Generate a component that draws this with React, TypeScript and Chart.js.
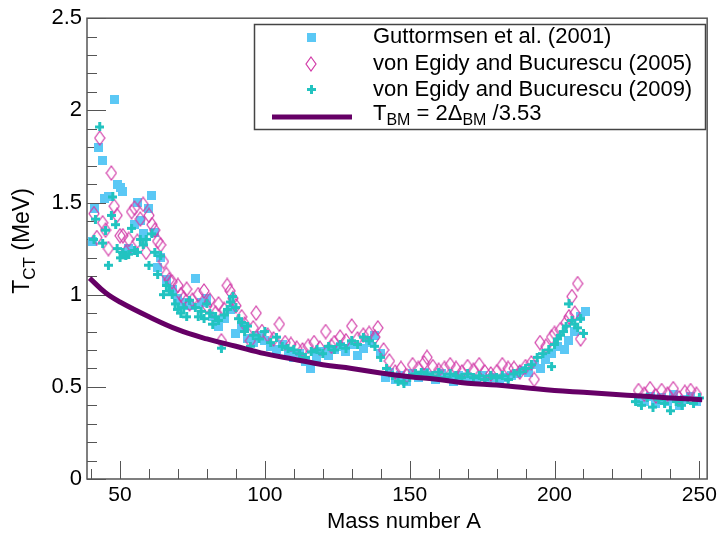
import React, { useEffect, useRef } from "react";
import { Chart, registerables } from "chart.js";
Chart.register(...registerables);

const FONT = "'Liberation Sans', Arial, Helvetica, sans-serif";

// ---- Axis ticks ----
const xTickValues = [50, 100, 150, 200, 250];
const xTickLabels = ["50", "100", "150", "200", "250"];
const yTickValues = [0, 0.5, 1, 1.5, 2, 2.5];
const yTickLabels = ["0", "0.5", "1", "1.5", "2", "2.5"];
const xRange = [38.6, 252.7];
const yRange = [0, 2.5];

// ---- Legend ----
const legendLabels = [
  "Guttormsen et al. (2001)",
  "von Egidy and Bucurescu (2005)",
  "von Egidy and Bucurescu (2009)",
];

// ---- Data: [mass number A, T_CT (MeV)] ----
const guttormsen2001: [number, number][] = [
  [40.6, 1.29], [41.2, 1.47], [42.4, 1.8], [44.1, 1.73], [44.7, 1.52], [46, 1.53], [48.1, 2.06],
  [49, 1.6], [50, 1.58], [51, 1.56], [52, 1.22], [53, 1.25], [55, 1.38], [56, 1.5], [57, 1.4],
  [58, 1.33], [60, 1.47], [61, 1.54], [62, 1.34], [63, 1.15], [64, 1.2], [66, 1.08], [68, 1.03],
  [70, 0.98], [72, 0.96], [74, 0.94], [76, 1.09], [78, 0.96], [80, 0.98], [82, 0.88], [84, 0.83],
  [86, 0.87], [88, 0.92], [90, 0.79], [92, 0.83], [94, 0.76], [96, 0.74], [98, 0.78], [100, 0.75],
  [102, 0.72], [104, 0.7], [106, 0.73], [108, 0.69], [110, 0.66], [112, 0.68], [114, 0.64],
  [115.7, 0.6], [118, 0.66], [120, 0.69], [122, 0.67], [124, 0.7], [126, 0.72], [128, 0.69],
  [130, 0.73], [132, 0.67], [134, 0.71], [136, 0.74], [138, 0.78], [140, 0.68], [141.5, 0.55],
  [143, 0.58], [145, 0.54], [147, 0.56], [149, 0.53], [151, 0.57], [153, 0.55], [155, 0.58],
  [157, 0.56], [159, 0.54], [161, 0.57], [163, 0.55], [165, 0.53], [167, 0.56], [169, 0.54],
  [171, 0.55], [173, 0.53], [175, 0.56], [177, 0.54], [179, 0.55], [181, 0.53], [183, 0.55],
  [185, 0.56], [187, 0.57], [189, 0.59], [191, 0.58], [193, 0.62], [195, 0.6], [197, 0.65],
  [199, 0.68], [201, 0.72], [203.3, 0.7], [205, 0.75], [207, 0.8], [209, 0.88], [210.8, 0.91],
  [229, 0.43], [231, 0.42], [233, 0.45], [235, 0.41], [237, 0.44], [239, 0.42], [241, 0.46],
  [243, 0.4], [245, 0.43], [247, 0.45], [249, 0.42],
];

const egidy2005: [number, number][] = [
  [41, 1.44], [42, 1.31], [43, 1.85], [44, 1.39], [45, 1.35], [46, 1.25], [47, 1.66], [48, 1.48],
  [49, 1.43], [50, 1.32], [51, 1.32], [52, 1.23], [53, 1.3], [54, 1.45], [55, 1.47], [56, 1.29],
  [57, 1.41], [58, 1.49], [59, 1.23], [60, 1.43], [61, 1.38], [62, 1.35], [63, 1.29], [64, 1.27],
  [65, 1.18], [66, 1.11], [67, 1.08], [68, 1.07], [70, 1.05], [71, 1.0], [72, 0.98], [73, 1.03],
  [74, 0.95], [75, 0.97], [77, 1.0], [79, 1.02], [80, 0.94], [81, 0.97], [83, 0.9], [84, 0.95],
  [85, 0.75], [86, 0.92], [87, 1.05], [88, 1.02], [89, 0.98], [90, 0.94], [92, 0.88], [93, 0.84],
  [95, 0.75], [96, 0.82], [97, 0.9], [99, 0.8], [101, 0.78], [103, 0.76], [105, 0.84], [107, 0.74],
  [109, 0.73], [111, 0.71], [113, 0.7], [115, 0.72], [117, 0.74], [119, 0.71], [121, 0.8],
  [123, 0.72], [124, 0.74], [126, 0.77], [128, 0.75], [130, 0.83], [132, 0.76], [134, 0.78],
  [136, 0.79], [138, 0.77], [139, 0.82], [141, 0.7], [143, 0.64], [145, 0.58], [147, 0.6],
  [149, 0.56], [151, 0.62], [153, 0.6], [155, 0.63], [156, 0.66], [158, 0.61], [160, 0.59],
  [162, 0.6], [164, 0.62], [166, 0.6], [168, 0.58], [170, 0.61], [172, 0.59], [174, 0.62],
  [176, 0.58], [178, 0.57], [180, 0.58], [182, 0.62], [184, 0.6], [186, 0.6], [188, 0.58],
  [190, 0.61], [192, 0.63], [193, 0.54], [195, 0.74], [197, 0.72], [199, 0.77], [200, 0.79],
  [202, 0.81], [204, 0.85], [205, 0.88], [206, 0.99], [207, 0.9], [208, 1.06], [209, 0.76],
  [229, 0.48], [231, 0.46], [233, 0.49], [235, 0.45], [237, 0.48], [239, 0.46], [241, 0.49],
  [243, 0.44], [245, 0.47], [247, 0.48], [249, 0.46],
];

const egidy2009: [number, number][] = [
  [41, 1.3], [41.5, 1.41], [43, 1.91], [44, 1.28], [45, 1.35], [46, 1.16], [47, 1.43], [47.5, 1.53],
  [48.5, 1.38], [49, 1.25], [50, 1.2], [51, 1.23], [52, 1.21], [53, 1.22], [54, 1.36], [55, 1.24],
  [56, 1.23], [57, 1.3], [58, 1.27], [59, 1.3], [60, 1.16], [61, 1.33], [62, 1.23], [63, 1.11],
  [64, 1.21], [65, 1.0], [66, 1.05], [67, 1.02], [68, 1.0], [69, 0.95], [70, 0.92], [71, 0.9],
  [72, 0.93], [73, 0.88], [74, 0.97], [76, 0.93], [77, 0.88], [78, 0.91], [79, 0.87], [80, 0.95],
  [81, 0.9], [82, 0.84], [83, 0.88], [84, 0.86], [85, 0.71], [86, 0.89], [87, 0.92], [88, 0.96],
  [89, 0.99], [90, 0.93], [91, 0.87], [92, 0.85], [93, 0.8], [94, 0.83], [95, 0.72], [96, 0.78],
  [98, 0.76], [100, 0.8], [102, 0.74], [104, 0.77], [106, 0.72], [108, 0.71], [110, 0.7],
  [112, 0.68], [114, 0.66], [116, 0.69], [118, 0.7], [120, 0.68], [122, 0.72], [124, 0.7],
  [126, 0.73], [128, 0.71], [130, 0.75], [132, 0.73], [134, 0.77], [136, 0.75], [138, 0.72],
  [140, 0.66], [142, 0.6], [144, 0.56], [146, 0.53], [148, 0.52], [150, 0.55], [152, 0.57],
  [154, 0.58], [156, 0.57], [158, 0.56], [160, 0.58], [162, 0.55], [164, 0.57], [166, 0.56],
  [168, 0.55], [170, 0.57], [172, 0.55], [174, 0.56], [176, 0.54], [178, 0.56], [180, 0.55],
  [182, 0.56], [184, 0.54], [186, 0.57], [188, 0.58], [190, 0.6], [192, 0.62], [194, 0.66],
  [196, 0.68], [198, 0.7], [199, 0.61], [200, 0.73], [201, 0.76], [202, 0.78], [203, 0.8],
  [204, 0.83], [205, 0.95], [206, 0.86], [207, 0.84], [208, 0.82], [209, 0.87], [210, 0.79],
  [228, 0.42], [230, 0.4], [232, 0.44], [234, 0.39], [236, 0.43], [238, 0.41], [240, 0.37],
  [242, 0.42], [244, 0.4], [246, 0.43], [248, 0.41], [250, 0.44],
];

// T_BM curve
const curveA = [39.5, 45, 50, 60, 70, 80, 90, 100, 110, 120, 130, 140, 150, 160, 170, 180, 190, 200, 210, 220, 230, 240, 251];
const curveT = [1.09, 1.01, 0.96, 0.88, 0.81, 0.76, 0.72, 0.68, 0.65, 0.62, 0.6, 0.575, 0.555, 0.54, 0.52, 0.51, 0.495, 0.48, 0.47, 0.46, 0.45, 0.44, 0.43];

const COL_SQ = "#5bc8f5";
const COL_DIA = "#d23ca8";
const COL_PLUS = "#22c3c0";
const COL_LINE = "#660066";
const COL_FRAME = "#555555";

function makeSquare(): HTMLCanvasElement {
  const c = document.createElement("canvas");
  c.width = 9; c.height = 9;
  const g = c.getContext("2d")!;
  g.fillStyle = COL_SQ;
  g.fillRect(0, 0, 9, 9);
  return c;
}
function makeDiamond(): HTMLCanvasElement {
  const c = document.createElement("canvas");
  c.width = 12; c.height = 16;
  const g = c.getContext("2d")!;
  g.strokeStyle = COL_DIA;
  g.lineWidth = 1.2;
  g.beginPath();
  g.moveTo(6, 1); g.lineTo(11, 8); g.lineTo(6, 15); g.lineTo(1, 8); g.closePath();
  g.stroke();
  return c;
}
function makePlus(): HTMLCanvasElement {
  const c = document.createElement("canvas");
  c.width = 9; c.height = 9;
  const g = c.getContext("2d")!;
  g.fillStyle = COL_PLUS;
  g.fillRect(0, 3, 9, 3);
  g.fillRect(3, 0, 3, 9);
  return c;
}

type Seg = { t: string; sub?: boolean };
function drawSegs(ctx: CanvasRenderingContext2D, segs: Seg[], x: number, y: number, size: number, align: "left" | "center") {
  const big = `${size}px ${FONT}`;
  const small = `${Math.round(size * 0.72)}px ${FONT}`;
  let total = 0;
  for (const s of segs) { ctx.font = s.sub ? small : big; total += ctx.measureText(s.t).width; }
  let cx = align === "center" ? x - total / 2 : x;
  ctx.textAlign = "left";
  ctx.textBaseline = "middle";
  for (const s of segs) {
    ctx.font = s.sub ? small : big;
    ctx.fillText(s.t, cx, s.sub ? y + size * 0.32 : y);
    cx += ctx.measureText(s.t).width;
  }
}

export default function App() {
  const ref = useRef<HTMLCanvasElement | null>(null);
  useEffect(() => {
    if (!ref.current) return;
    const sq = makeSquare();
    const dia = makeDiamond();
    const plus = makePlus();

    const decor = {
      id: "decor",
      beforeDatasetsDraw(chart: any) {
        const { ctx, chartArea } = chart;
        const { left, right, top, bottom } = chartArea;
        const x = chart.scales.x, y = chart.scales.y;
        ctx.save();
        ctx.strokeStyle = COL_FRAME;
        ctx.lineWidth = 1;
        // y ticks (every 0.1, long at 0.5)
        for (let i = 0; i <= 25; i++) {
          const py = Math.round(y.getPixelForValue(i / 10)) + 0.5;
          const len = i % 5 === 0 ? 19 : 10;
          ctx.beginPath(); ctx.moveTo(left, py); ctx.lineTo(left + len, py); ctx.stroke();
        }
        // x ticks (every 10, long at 50)
        for (let a = 40; a <= 250; a += 10) {
          const px = Math.round(x.getPixelForValue(a)) + 0.5;
          const len = a % 50 === 0 ? 18 : 10;
          ctx.beginPath(); ctx.moveTo(px, bottom); ctx.lineTo(px, bottom - len); ctx.stroke();
        }
        ctx.lineWidth = 1.5;
        ctx.strokeRect(left, top, right - left, bottom - top);
        ctx.restore();
      },
      afterDraw(chart: any) {
        const { ctx } = chart;
        ctx.save();
        ctx.fillStyle = "#000";
        // axis titles
        drawSegs(ctx, [{ t: "Mass number A" }], 404, 522, 22, "center");
        ctx.save();
        ctx.translate(23, 241);
        ctx.rotate(-Math.PI / 2);
        drawSegs(ctx, [{ t: "T" }, { t: "CT", sub: true }, { t: " (MeV)" }], 0, 0, 23, "center");
        ctx.restore();
        // legend box
        ctx.fillStyle = "#fff";
        ctx.fillRect(254, 24, 451, 105);
        ctx.strokeStyle = "#444";
        ctx.lineWidth = 1.5;
        ctx.strokeRect(254.5, 24.5, 451, 105);
        const rows = [37, 64, 89.5, 114];
        const symX = 311;
        const imgs = [sq, dia, plus];
        imgs.forEach((im, i) => {
          ctx.drawImage(im, Math.round(symX - im.width / 2), Math.round(rows[i] - im.height / 2));
        });
        ctx.strokeStyle = COL_LINE;
        ctx.lineWidth = 5;
        ctx.beginPath(); ctx.moveTo(272, 117); ctx.lineTo(352, 117); ctx.stroke();
        ctx.fillStyle = "#000";
        legendLabels.forEach((l, i) => drawSegs(ctx, [{ t: l }], 373, rows[i], 22, "left"));
        drawSegs(ctx, [{ t: "T" }, { t: "BM", sub: true }, { t: " = 2\u0394" }, { t: "BM", sub: true }, { t: " /3.53" }], 373, rows[3], 22, "left");
        ctx.restore();
      },
    };

    const toXY = (arr: [number, number][]) => arr.map(([a, t]) => ({ x: a, y: t }));

    const chart = new Chart(ref.current, {
      type: "scatter",
      data: {
        datasets: [
          {
            label: "T_BM",
            type: "line",
            data: curveA.map((a, i) => ({ x: a, y: curveT[i] })),
            borderColor: COL_LINE,
            borderWidth: 5,
            pointRadius: 0,
            tension: 0.4,
            showLine: true,
            fill: false,
            order: 0,
          } as any,
          { label: legendLabels[2], data: toXY(egidy2009), pointStyle: plus, pointRadius: 4, order: 1 } as any,
          { label: legendLabels[1], data: toXY(egidy2005), pointStyle: dia, pointRadius: 4, order: 2 } as any,
          { label: legendLabels[0], data: toXY(guttormsen2001), pointStyle: sq, pointRadius: 4, order: 3 } as any,
        ],
      },
      options: {
        animation: false,
        responsive: true,
        maintainAspectRatio: false,
        events: [],
        layout: { padding: { top: 13, right: 11, left: 0, bottom: 0 } },
        plugins: { legend: { display: false }, tooltip: { enabled: false } },
        scales: {
          x: {
            type: "linear",
            min: xRange[0],
            max: xRange[1],
            grid: { display: false, drawTicks: false },
            border: { display: false },
            afterBuildTicks: (s: any) => { s.ticks = xTickValues.map((v) => ({ value: v })); },
            ticks: {
              callback: (v: any) => { const i = xTickValues.indexOf(Number(v)); return i >= 0 ? xTickLabels[i] : ""; },
              font: { family: FONT, size: 21 },
              color: "#000",
              padding: 4,
              maxRotation: 0,
              autoSkip: false,
            },
            afterFit: (s: any) => { s.height = 57; },
          },
          y: {
            type: "linear",
            min: yRange[0],
            max: yRange[1],
            grid: { display: false, drawTicks: false },
            border: { display: false },
            afterBuildTicks: (s: any) => { s.ticks = yTickValues.map((v) => ({ value: v })); },
            ticks: {
              callback: (v: any) => { const i = yTickValues.indexOf(Number(v)); return i >= 0 ? yTickLabels[i] : ""; },
              font: { family: FONT, size: 22 },
              color: "#000",
              padding: 5,
              autoSkip: false,
            },
            afterFit: (s: any) => { s.width = 87; },
          },
        },
      },
      plugins: [decor],
    });
    return () => chart.destroy();
  }, []);

  return (
    <div style={{ position: "absolute", left: 0, top: 0, width: 721, height: 536, background: "#fff" }}>
      <canvas ref={ref} />
    </div>
  );
}
